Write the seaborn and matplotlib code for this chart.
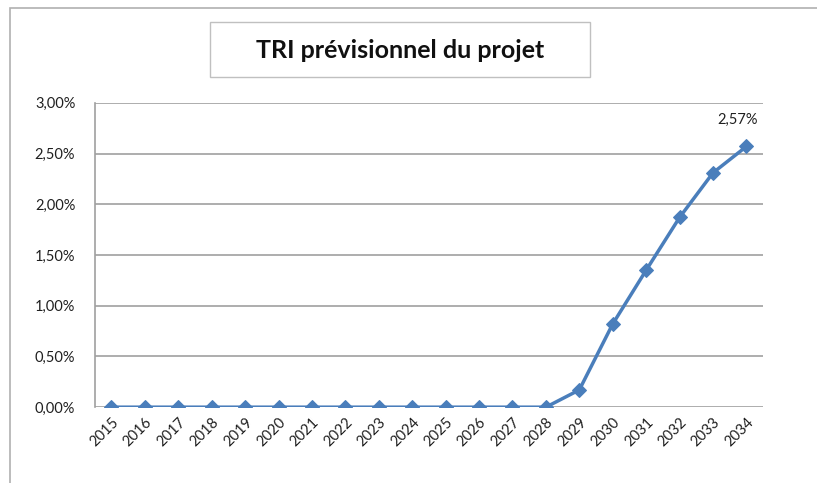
import matplotlib
matplotlib.use('Agg')
import matplotlib.pyplot as plt
from matplotlib.patches import Rectangle
from matplotlib.ticker import FuncFormatter
import pandas as pd
import seaborn as sns

sns.set_style('white')
plt.rcParams['font.family'] = ['Lato', 'DejaVu Sans']

annees = [str(a) for a in range(2015, 2035)]
tri = [0.0, 0.0, 0.0, 0.0, 0.0, 0.0, 0.0, 0.0, 0.0, 0.0,
       0.0, 0.0, 0.0, 0.0, 0.17, 0.82, 1.35, 1.87, 2.31, 2.57]
titre = 'TRI prévisionnel du projet'

df = pd.DataFrame({'annee': annees, 'tri': tri})

fig = plt.figure(figsize=(8.17, 4.83), dpi=100)
ax = fig.add_axes([0.116, 0.157, 0.818, 0.630])

# cadre exterieur du graphique
fig.patches.append(Rectangle((10 / 817, -0.2), 1.2, 1.2 - 8 / 483,
                             transform=fig.transFigure, fill=False,
                             edgecolor='#b0b0b0', linewidth=1.2))
# cadre du titre
fig.patches.append(Rectangle((210 / 817, 1 - 77 / 483), 380 / 817, 55 / 483,
                             transform=fig.transFigure, facecolor='white',
                             edgecolor='#c0c0c0', linewidth=1))

sns.lineplot(data=df, x='annee', y='tri', ax=ax, color='#4a7ebb',
             linewidth=2.5, marker='D', markersize=7,
             markeredgecolor='#4a7ebb', sort=False)

ax.set_xlim(-0.5, len(annees) - 0.5)
ax.set_ylim(0, 3.0)
ax.set_yticks([0, 0.5, 1.0, 1.5, 2.0, 2.5, 3.0])
ax.yaxis.set_major_formatter(FuncFormatter(lambda v, p: '{:.2f}%'.format(v).replace('.', ',')))
ax.grid(axis='y', color='#a0a0a0', linewidth=1.2)
ax.set_axisbelow(True)
for s in ['top', 'right', 'bottom']:
    ax.spines[s].set_visible(False)
ax.spines['left'].set_color('#a0a0a0')
ax.spines['left'].set_linewidth(1.2)
ax.set_xlabel('')
ax.set_ylabel('')
ax.tick_params(axis='both', length=0, labelsize=10.5, colors='#202020')
ax.tick_params(axis='y', pad=14)
ax.tick_params(axis='x', pad=6)
plt.setp(ax.get_xticklabels(), rotation=45, ha='right', rotation_mode='anchor')

ax.annotate('{:.2f}%'.format(tri[-1]).replace('.', ','), (len(annees) - 1, tri[-1]),
            xytext=(-6, 14), textcoords='offset points', ha='center', va='bottom',
            fontsize=10.5, color='#202020')

fig.text(400 / 817, 1 - 50 / 483, titre, ha='center', va='center',
         fontsize=18, fontweight='bold', color='#101010')

fig.savefig('out.png', dpi=100)
